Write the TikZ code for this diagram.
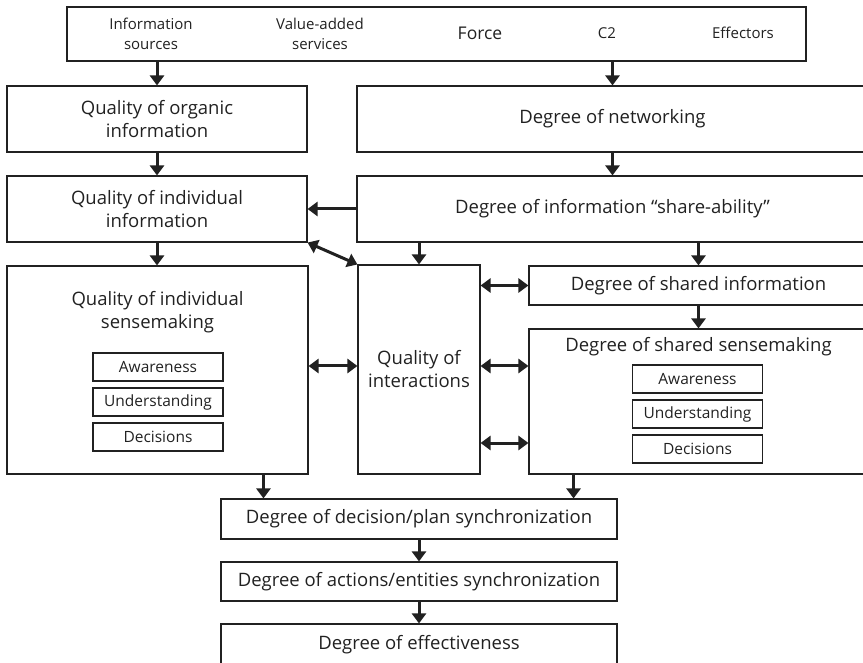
\documentclass[tikz,border=0pt]{standalone}
\usepackage{fontspec}
\setmainfont{Open Sans}
\usetikzlibrary{arrows.meta}
\definecolor{ink}{gray}{0.13}
\tikzset{
  box/.style = {rectangle, draw=ink, line width=1.1pt, inner sep=0pt,
    align=center, text=ink, font=\fontsize{18.5}{23}\selectfont},% boite
  subbox/.style = {box, minimum width=130, minimum height=28,
    font=\fontsize{15.5}{19}\selectfont},% petite boite
  boxtxt/.style = {align=center, inner sep=0pt, text=ink,
    font=\fontsize{18.5}{23}\selectfont},% titre dans une boite
  toptxt/.style = {align=center, inner sep=0pt, text=ink,
    font=\fontsize{15}{20}\selectfont}% texte du haut
}

\begin{document}
\begin{tikzpicture}[x=1pt,y=-1pt,->,>={Triangle[width=14pt,length=10pt]},line width=3pt,draw=ink]
	\useasboundingbox (0,0) rectangle (863,663);
	\node [box, minimum width=739, minimum height=54] (src) at (436.5,34) {};
	\node [toptxt] (info) at (151,34) {Information\\sources};
	\node [toptxt] (vas) at (320,34) {Value-added\\services};
	\node [toptxt, font=\fontsize{17.5}{20}\selectfont] (force) at (480,33) {Force};
	\node [toptxt] (ctwo) at (607,33) {C2};
	\node [toptxt] (eff) at (743,33) {Effectors};

	\node [box, minimum width=300, minimum height=66] (qoi) at (157,119) {Quality of organic\\information};
	\node [box, minimum width=511, minimum height=66] (don) at (612.5,119) {Degree of networking};
	\node [box, minimum width=300, minimum height=66] (qii) at (157,209) {Quality of individual\\information};
	\node [box, minimum width=511, minimum height=66] (dis) at (612.5,209) {Degree of information “share-ability”};

	\node [box, minimum width=301, minimum height=208] (qis) at (157.5,370) {};
	\node [boxtxt] (qislbl) at (157.5,312.5) {Quality of individual\\sensemaking};
	\node [subbox] (qaw) at (158,367) {Awareness};
	\node [subbox] (qun) at (158,402) {Understanding};
	\node [subbox] (qde) at (158,437) {Decisions};

	\node [box, minimum width=122, minimum height=209] (qint) at (419,369.5) {Quality of\\interactions};

	\node [box, minimum width=339, minimum height=39] (dsi) at (698.5,285.5) {Degree of shared information};
	\node [box, minimum width=339, minimum height=145] (dss) at (698.5,401.5) {};
	\node [boxtxt] (dsslbl) at (698.5,347) {Degree of shared sensemaking};
	\node [subbox] (saw) at (697.5,379) {Awareness};
	\node [subbox] (sun) at (697.5,414) {Understanding};
	\node [subbox] (sde) at (697.5,449) {Decisions};

	\node [box, minimum width=396, minimum height=40] (ddp) at (419,519) {Degree of decision/plan synchronization};
	\node [box, minimum width=396, minimum height=39] (dae) at (419,581.5) {Degree of actions/entities synchronization};
	\node [box, minimum width=396, minimum height=41] (doe) at (419,644.5) {Degree of effectiveness};

	\draw (src.south -| qoi.north) -- (qoi.north);
	\draw (src.south -| don.north) -- (don.north);
	\foreach \from/\to in {qoi/qii,don/dis,qii/qis,dsi/dss,ddp/dae,dae/doe}
	  \draw (\from.south) -- (\from.south |- \to.north);
	\draw (dis.west) -- (qii.east);
	\draw (dis.south -| qint.north) -- (qint.north);
	\draw (dis.south -| dsi.north) -- (dsi.north);
	\draw [<->] (qii.south east) -- (qint.north west);
	\draw [<->] ([yshift=4]qis.east) -- ([yshift=4]qis.east -| qint.west);
	\draw [<->] (qint.east |- dsi.west) -- (dsi.west);
	\draw [<->] ([yshift=3.5]qint.east) -- ([yshift=3.5]qint.east -| dss.west);
	\draw [<->] ([yshift=-73.5]qint.east) -- ([yshift=-73.5]qint.east -| dss.west);
	\draw ([xshift=43]ddp.north west |- qis.south) -- ([xshift=43]ddp.north west);
	\draw ([xshift=-44]ddp.north east |- dss.south) -- ([xshift=-44]ddp.north east);
\end{tikzpicture}
\end{document}
